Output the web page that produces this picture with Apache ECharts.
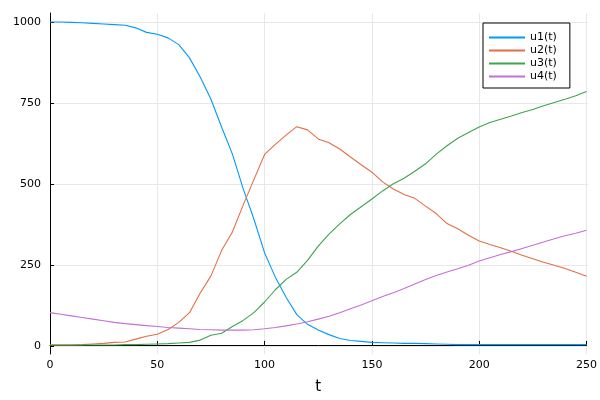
<!DOCTYPE html>
<html>
<head>
<meta charset="utf-8">
<script src="https://cdn.jsdelivr.net/npm/echarts@6/dist/echarts.min.js"></script>
<style>
  html, body { margin: 0; padding: 0; background: #fff; }
  #chart { width: 600px; height: 400px; }
</style>
</head>
<body>
<div id="chart"></div>
<script>
// time points
const tValues = [0, 5, 10, 15, 20, 25, 30, 35, 40, 45, 50, 55, 60, 65, 70, 75, 80, 85, 90, 95,
  100, 105, 110, 115, 120, 125, 130, 135, 140, 145, 150, 155, 160, 165, 170, 175, 180, 185, 190, 195,
  200, 205, 210, 215, 220, 225, 230, 235, 240, 245, 250]

const u1 = [1000, 1000, 999, 998, 996, 994, 992, 990, 982, 968, 962, 951, 930, 889, 830, 761, 674, 591, 484, 390,
  285, 210, 148, 94, 64, 46, 32, 20, 14, 11, 8, 7, 6, 5, 5, 4, 3, 2, 1, 1,
  1, 1, 1, 1, 1, 1, 1, 1, 1, 1, 1]
const u2 = [0, 0, 0, 1, 3, 5, 8, 9, 18, 27, 33, 48, 70, 100, 161, 214, 293, 350, 433, 512,
  590, 621, 650, 676, 666, 638, 626, 607, 582, 558, 535, 505, 483, 466, 454, 430, 407, 376, 360, 340,
  322, 311, 301, 290, 278, 267, 256, 247, 237, 225, 213]
const u3 = [0, 0, 0, 0, 0, 0, 0, 1, 1, 2, 3, 4, 6, 8, 15, 30, 36, 57, 76, 100,
  133, 171, 203, 225, 262, 306, 343, 375, 404, 428, 452, 477, 499, 516, 538, 561, 591, 617, 640, 658,
  675, 689, 699, 709, 720, 729, 741, 751, 761, 772, 785]
const u4 = [100, 95, 90, 85, 80, 75, 70, 66, 63, 60, 57, 54, 52, 50, 48, 47, 46, 46, 46, 47,
  50, 54, 59, 65, 72, 80, 89, 100, 112, 124, 137, 150, 162, 175, 189, 203, 215, 226, 236, 247,
  260, 270, 280, 289, 299, 309, 319, 329, 338, 346, 355]

const seriesNames = ['u1(t)', 'u2(t)', 'u3(t)', 'u4(t)']
const seriesValues = [u1, u2, u3, u4]
const colors = ['#009AFA', '#E36F47', '#3EA44E', '#C371D2']
const xTicks = [0, 250, 50]        // min, max, step
const yTicks = [0, 1000, 250]

const font = 'DejaVu Sans'
const gridColor = '#e8e8e8'

const chart = echarts.init(document.getElementById('chart'))

const series = seriesNames.map((name, i) => ({
  name: name,
  type: 'line',
  xAxisIndex: 0,
  yAxisIndex: 0,
  showSymbol: false,
  symbol: 'none',
  lineStyle: { width: 1.1, color: colors[i] },
  itemStyle: { color: colors[i] },
  data: tValues.map((t, k) => [t, seriesValues[i][k]])
}))

const option = {
  animation: false,
  backgroundColor: '#fff',
  textStyle: { fontFamily: font },
  grid: [
    // data area, axis lines
    { left: 50, right: 12, top: 13, bottom: 45 },
    // tick labels / horizontal grid
    { left: 50, right: 12, top: 22, bottom: 54 }
  ],
  xAxis: [
    {
      gridIndex: 0,
      type: 'value',
      min: xTicks[0],
      max: xTicks[1],
      interval: xTicks[2],
      name: 't',
      nameLocation: 'middle',
      nameGap: 26,
      nameTextStyle: { fontFamily: font, fontSize: 15, color: '#000' },
      axisLine: { show: true, lineStyle: { color: '#000', width: 1 } },
      axisTick: { show: true, inside: true, length: 4, lineStyle: { color: '#000' } },
      axisLabel: { fontFamily: font, fontSize: 11, color: '#000', margin: 6, formatter: v => String(v) },
      splitLine: { show: true, lineStyle: { color: gridColor, width: 1 } }
    },
    {
      gridIndex: 1,
      type: 'value',
      min: xTicks[0],
      max: xTicks[1],
      show: false
    }
  ],
  yAxis: [
    {
      gridIndex: 0,
      type: 'value',
      min: -28,
      max: 1028,
      axisLine: { show: true, lineStyle: { color: '#000', width: 1 } },
      axisTick: { show: false },
      axisLabel: { show: false },
      splitLine: { show: false }
    },
    {
      gridIndex: 1,
      type: 'value',
      min: yTicks[0],
      max: yTicks[1],
      interval: yTicks[2],
      axisLine: { show: false },
      axisTick: { show: true, inside: true, length: 4, lineStyle: { color: '#000' } },
      axisLabel: { fontFamily: font, fontSize: 11, color: '#000', margin: 9, formatter: v => String(v) },
      splitLine: { show: true, lineStyle: { color: gridColor, width: 1 } }
    }
  ],
  legend: {
    orient: 'vertical',
    left: 483,
    top: 23,
    padding: [8, 13, 5, 6],
    itemGap: 0,
    itemWidth: 36,
    itemHeight: 2,
    icon: 'rect',
    borderColor: '#000',
    borderWidth: 1,
    backgroundColor: '#fff',
    textStyle: { fontFamily: font, fontSize: 11, color: '#000', lineHeight: 13, padding: [0, 0, 0, 0] },
    data: seriesNames
  },
  series: series
}

chart.setOption(option)
</script>
</body>
</html>
